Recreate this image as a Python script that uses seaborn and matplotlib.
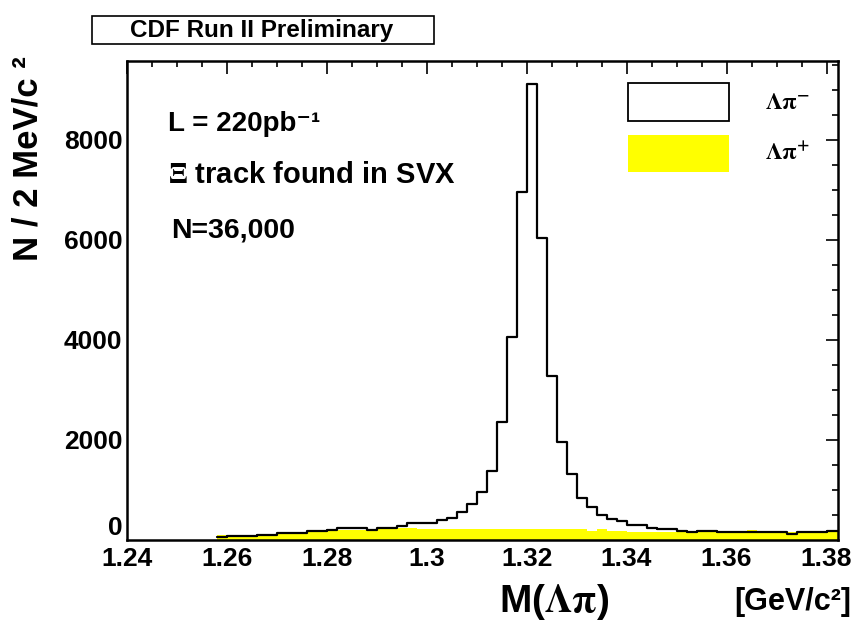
import numpy as np
import pandas as pd
import matplotlib
matplotlib.use("Agg")
import matplotlib.pyplot as plt
import seaborn as sns
from matplotlib.patches import Patch, Rectangle
from matplotlib.ticker import FixedLocator, MultipleLocator, FixedFormatter

# ---------------- data ----------------
bin_low = 1.258          # first filled bin edge [GeV/c^2]
bin_width = 0.002        # 2 MeV/c^2 bins

# Lambda pi-  (open black histogram), bins 1.258 ... 1.382
lam_pi_minus = [
    50, 80, 80, 80, 100, 100, 130, 140, 130, 170,      # 1.258-1.276
    170, 190, 230, 230, 230, 200, 230, 230, 270, 330,  # 1.278-1.296
    330, 340, 390, 430, 553, 720, 953, 1387, 2367, 4067,   # 1.298-1.316
    6953, 9120, 6033, 3280, 1953, 1320, 833, 650, 490, 410,  # 1.318-1.336
    370, 300, 300, 240, 220, 210, 175, 160, 180, 180,  # 1.338-1.356
    160, 160, 160, 150, 150, 160, 155, 120, 155, 155,  # 1.358-1.376
    160, 170, 170,                                     # 1.378-1.382
]
# Lambda pi+  (yellow filled histogram)
lam_pi_plus = [
    100, 70, 70, 80, 90, 100, 110, 120, 120, 160,
    160, 180, 190, 200, 200, 200, 210, 220, 230, 230,
    225, 220, 220, 220, 220, 220, 220, 220, 220, 220,
    220, 220, 220, 220, 220, 220, 220, 185, 220, 185,
    170, 165, 160, 160, 160, 160, 160, 160, 160, 160,
    160, 160, 160, 190, 160, 160, 160, 160, 160, 160,
    160, 165, 165,
]

x_ticks = [1.24, 1.26, 1.28, 1.30, 1.32, 1.34, 1.36, 1.38]
x_tick_labels = ["1.24", "1.26", "1.28", "1.3", "1.32", "1.34", "1.36", "1.38"]
y_ticks = [0, 2000, 4000, 6000, 8000]
y_tick_labels = ["0", "2000", "4000", "6000", "8000"]

series_labels = [r"$\mathrm{\Lambda\pi}^{-}$", r"$\mathrm{\Lambda\pi}^{+}$"]

# ---------------- table ----------------
n_bins = len(lam_pi_minus)
centers = bin_low + bin_width * (np.arange(n_bins) + 0.5)
df = pd.DataFrame({
    "mass": np.concatenate([centers, centers]),
    "count": np.concatenate([lam_pi_minus, lam_pi_plus]),
    "charge": ["minus"] * n_bins + ["plus"] * n_bins,
})
bin_range = (bin_low, bin_low + bin_width * n_bins)

# ---------------- style ----------------
sns.set_theme(style="white")
plt.rcParams["font.family"] = ["Liberation Sans", "DejaVu Sans"]
plt.rcParams["font.weight"] = "bold"
plt.rcParams["mathtext.fontset"] = "stix"
for k in ["text.color", "axes.labelcolor", "xtick.color", "ytick.color",
          "xtick.labelcolor", "ytick.labelcolor"]:
    plt.rcParams[k] = "black"

W, H = 859, 622
fig = plt.figure(figsize=(W / 100, H / 100), dpi=100)
fig.patch.set_facecolor("white")

ax_l, ax_r, ax_t, ax_b = 126.7, 838, 61, 540
ax = fig.add_axes([ax_l / W, 1 - ax_b / H, (ax_r - ax_l) / W, (ax_b - ax_t) / H])
ax.set_facecolor("white")

sns.histplot(data=df[df.charge == "plus"], x="mass", weights="count",
             binwidth=bin_width, binrange=bin_range,
             element="step", fill=True, color="#ffff00", alpha=1, linewidth=0,
             ax=ax, zorder=1)
sns.histplot(data=df[df.charge == "minus"], x="mass", weights="count",
             binwidth=bin_width, binrange=bin_range,
             element="step", fill=False, color="black", linewidth=1.6,
             ax=ax, zorder=2)

ax.set_xlim(1.24, 1.3823)
ax.set_ylim(0, 9576)

ax.xaxis.set_major_locator(FixedLocator(x_ticks))
ax.xaxis.set_major_formatter(FixedFormatter(x_tick_labels))
ax.xaxis.set_minor_locator(MultipleLocator(0.005))
ax.yaxis.set_major_locator(FixedLocator(y_ticks))
ax.yaxis.set_major_formatter(FixedFormatter(y_tick_labels))
ax.yaxis.set_minor_locator(MultipleLocator(500))

ax.tick_params(which="both", direction="in", top=True, right=True,
               color="black", width=1.2, labelsize=19, labelcolor="black")
ax.tick_params(which="major", length=9)
ax.tick_params(which="minor", length=4.5)
ax.tick_params(axis="x", pad=5)
ax.tick_params(axis="y", pad=3)
for lab in ax.get_xticklabels() + ax.get_yticklabels():
    lab.set_fontweight("bold")
# the "0" label sits just above the x axis, as in the reference
ax.yaxis.get_major_ticks()[0].label1.set_verticalalignment("bottom")

for s in ax.spines.values():
    s.set_color("black")
    s.set_linewidth(1.8)
    s.set_visible(True)

ax.set_xlabel("")
ax.set_ylabel("N / 2 MeV/c ²", fontsize=25, fontweight="bold", loc="top")
ax.yaxis.set_label_coords((44 - ax_l) / (ax_r - ax_l), 1.01)

# x axis title pieces
fig.text(554 / W, 1 - 602 / H, r"M($\mathrm{\Lambda\pi}$)", fontsize=28,
         fontweight="bold", ha="center", va="center")
fig.text(851 / W, 1 - 602 / H, "[GeV/c²]", fontsize=22,
         fontweight="bold", ha="right", va="center")

# title box
fig.add_artist(Rectangle((92 / W, 1 - 44 / H), (434 - 92) / W, (44 - 16) / H,
                         transform=fig.transFigure, fc="white", ec="black", lw=1.2))
fig.text(262 / W, 1 - 30 / H, "CDF Run II Preliminary", fontsize=17.5,
         fontweight="bold", ha="center", va="center")

# annotations
ax.text(168 / W, 1 - 124 / H, "L = 220pb⁻¹", transform=fig.transFigure,
        fontsize=20, fontweight="bold", ha="left", va="center")
ax.text(168 / W, 1 - 175 / H, r"$\Xi$ track found in SVX", transform=fig.transFigure,
        fontsize=21, fontweight="bold", ha="left", va="center")
ax.text(171 / W, 1 - 230 / H, "N=36,000", transform=fig.transFigure,
        fontsize=20.5, fontweight="bold", ha="left", va="center")

# legend
handles = [Patch(facecolor="white", edgecolor="black", linewidth=1.3, label=series_labels[0]),
           Patch(facecolor="#ffff00", edgecolor="#ffff00", linewidth=0, label=series_labels[1])]
fs = 17
px = fs * 100 / 72
ax.legend(handles=handles, loc="upper left",
          bbox_to_anchor=(628 / W, 1 - 83 / H), bbox_transform=fig.transFigure,
          frameon=False, fontsize=fs, handlelength=101 / px, handleheight=49 / px,
          handletextpad=36 / px, labelspacing=14 / px, borderpad=0, borderaxespad=0)

fig.savefig("out.png", dpi=100, facecolor="white")
